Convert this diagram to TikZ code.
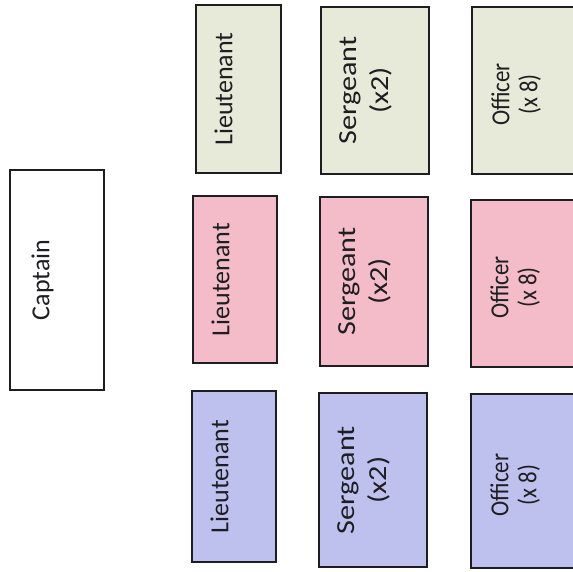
\documentclass[tikz,border=0pt]{standalone}
\usepackage{fontspec}
\setmainfont{Carlito}
\definecolor{sage}{RGB}{232,234,217}
\definecolor{rose}{RGB}{243,188,200}
\definecolor{lilac}{RGB}{190,193,238}
\definecolor{ink}{RGB}{30,30,34}
\begin{document}
\begin{tikzpicture}[x=1pt,y=-1pt,
  rank/.style={draw=ink, line width=1.6pt, inner sep=0pt, anchor=center},
  tag/.style={rotate=90, anchor=north, inner sep=0pt, align=center, text=ink,
    font=\fontsize{26}{32}\selectfont}]
\useasboundingbox (0,0) rectangle (573,572);
\clip (0,0) rectangle (573,572);
% commanding officer
\node[rank, fill=white, minimum width=94pt, minimum height=220pt] (cap) at (57,280) {};
\node[tag] (capt) at ([xshift=22pt]cap.west) {Captain};
% first platoon
\node[rank, fill=sage, minimum width=85pt, minimum height=168pt] (lt1) at (238.5,89) {};
\node[rank, fill=sage, minimum width=108pt, minimum height=167pt] (sg1) at (375,90.5) {};
\node[rank, fill=sage, minimum width=108pt, minimum height=167pt] (of1) at (526,90.5) {};
% second platoon
\node[rank, fill=rose, minimum width=84pt, minimum height=167pt] (lt2) at (235,279.5) {};
\node[rank, fill=rose, minimum width=108pt, minimum height=169pt] (sg2) at (374,281.5) {};
\node[rank, fill=rose, minimum width=108pt, minimum height=167pt] (of2) at (525,283.5) {};
% third platoon
\node[rank, fill=lilac, minimum width=84pt, minimum height=171pt] (lt3) at (234,476.5) {};
\node[rank, fill=lilac, minimum width=108pt, minimum height=174pt] (sg3) at (373,480) {};
\node[rank, fill=lilac, minimum width=108pt, minimum height=174pt] (of3) at (525,481) {};
% rank labels (stretched or narrowed along the reading direction)
\foreach \i in {1,2,3}{
  \node[tag] (lt\i t) at ([xshift=19pt]lt\i.west) {Lieutenant};
  \node[tag, xscale=1.16] (sg\i t) at ([xshift=19pt]sg\i.west) {Sergeant\\(x2)};
  \node[tag, xscale=0.88, font=\fontsize{26}{28}\selectfont] (of\i t)
    at ([xshift=20pt, yshift=-4pt]of\i.west) {Officer\\(x 8)};
}
\end{tikzpicture}
\end{document}
